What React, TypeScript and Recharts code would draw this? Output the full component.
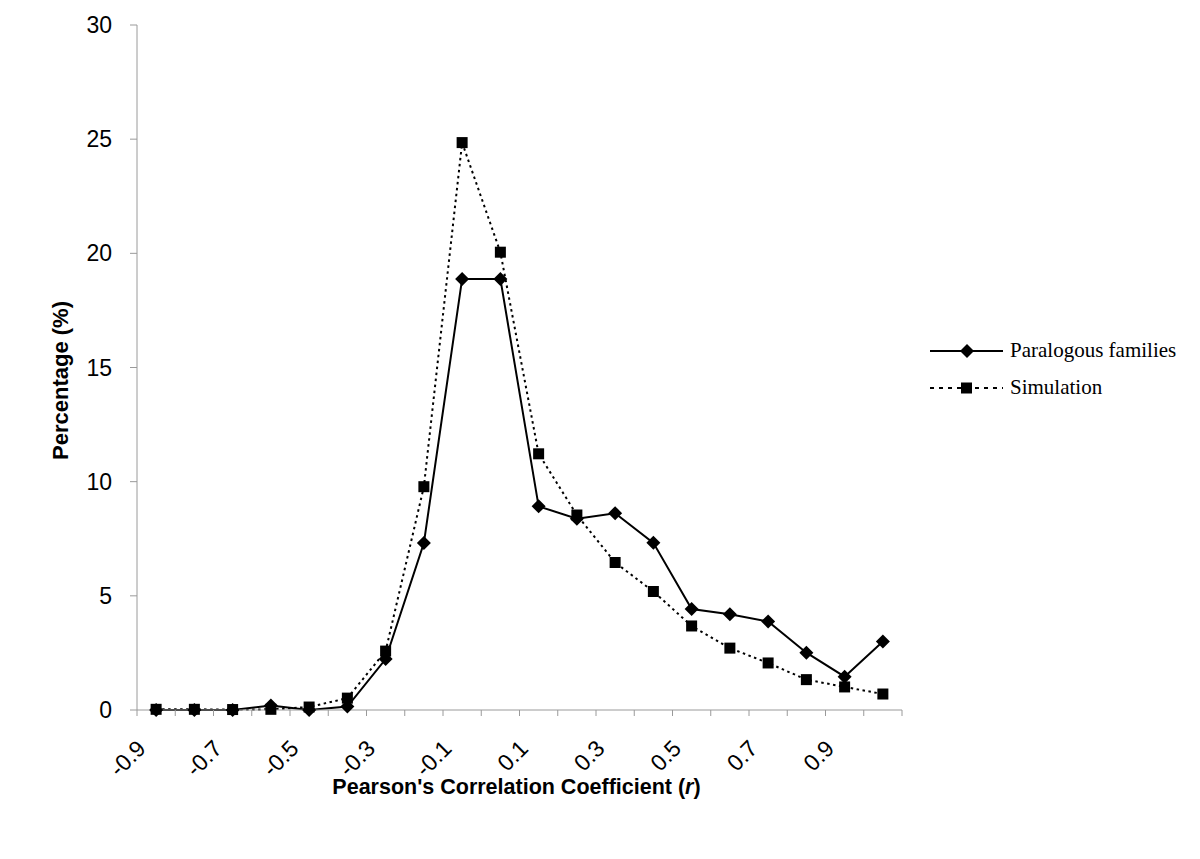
import React from 'react';
import { LineChart, Line, XAxis, YAxis, Legend, Label } from 'recharts';

// correlation bins (r) and percentage per bin
const coefficients = [-0.9, -0.8, -0.7, -0.6, -0.5, -0.4, -0.3, -0.2, -0.1, 0.0, 0.1, 0.2, 0.3, 0.4, 0.5, 0.6, 0.7, 0.8, 0.9, 1.0];
const paralogous = [0, 0, 0, 0.2, 0, 0.15, 2.23, 7.31, 18.88, 18.88, 8.92, 8.38, 8.62, 7.32, 4.42, 4.19, 3.88, 2.51, 1.46, 3.0];
const simulation = [0.03, 0.03, 0.02, 0.03, 0.13, 0.52, 2.58, 9.78, 24.85, 20.05, 11.22, 8.54, 6.46, 5.19, 3.68, 2.71, 2.06, 1.33, 1.01, 0.7];
const yTicks = [0, 5, 10, 15, 20, 25, 30];

const data = coefficients.map((r, i) => ({
  r,
  paralogous: paralogous[i],
  simulation: simulation[i],
}));

const W = 1192;
const H = 851;
const MARGIN = { top: 17, right: 298, left: 69, bottom: 49 };
const Y_AXIS_W = 60;
const X_AXIS_H = 100;
const PLOT_W = W - MARGIN.left - MARGIN.right - Y_AXIS_W;
const HALF_STEP = PLOT_W / coefficients.length / 2;

const GREY = '#9a9a9a';
const SANS = '"Liberation Sans", Arial, sans-serif';
const SERIF = '"Liberation Serif", "Times New Roman", serif';

const XTick = (props: any) => {
  const { x, y, payload, index, visibleTicksCount } = props;
  const last = index === visibleTicksCount - 1;
  const tx = x - 9;
  const ty = y + 40;
  return (
    <g>
      <line x1={x - HALF_STEP} x2={x - HALF_STEP} y1={y} y2={y + 6} stroke={GREY} />
      {last && <line x1={x + HALF_STEP} x2={x + HALF_STEP} y1={y} y2={y + 6} stroke={GREY} />}
      {index % 2 === 0 && (
        <text
          x={tx}
          y={ty}
          transform={`rotate(-45, ${tx}, ${ty})`}
          textAnchor="end"
          fontFamily={SANS}
          fontSize={23}
          fill="#000"
        >
          {Number(payload.value).toFixed(1)}
        </text>
      )}
    </g>
  );
};

const Diamond = (p: any) => {
  const { cx, cy } = p;
  if (cx == null || cy == null) return null;
  const r = 7;
  return <path key={`d-${p.index}`} d={`M${cx},${cy - r}L${cx + r},${cy}L${cx},${cy + r}L${cx - r},${cy}Z`} fill="#000" />;
};

const Square = (p: any) => {
  const { cx, cy } = p;
  if (cx == null || cy == null) return null;
  const s = 11;
  return <rect key={`s-${p.index}`} x={cx - s / 2} y={cy - s / 2} width={s} height={s} fill="#000" />;
};

const LegendContent = () => (
  <div style={{ fontFamily: SERIF, fontSize: 21, color: '#000' }}>
    <div style={{ display: 'flex', alignItems: 'center', height: 37 }}>
      <svg width={80} height={20}>
        <line x1={0} x2={73} y1={10} y2={10} stroke="#000" strokeWidth={2} />
        <path d="M37,3L44,10L37,17L30,10Z" fill="#000" />
      </svg>
      <span>Paralogous families</span>
    </div>
    <div style={{ display: 'flex', alignItems: 'center', height: 37 }}>
      <svg width={80} height={20}>
        <line x1={0} x2={73} y1={10} y2={10} stroke="#000" strokeWidth={2} strokeDasharray="4 5" />
        <rect x={31} y={4.5} width={11} height={11} fill="#000" />
      </svg>
      <span>Simulation</span>
    </div>
  </div>
);

export default function App() {
  return (
    <LineChart width={W} height={H} data={data} margin={MARGIN}>
      <XAxis
        dataKey="r"
        type="category"
        height={X_AXIS_H}
        interval={0}
        padding={{ left: HALF_STEP, right: HALF_STEP }}
        stroke={GREY}
        tickLine={false}
        tickSize={0}
        tickMargin={0}
        tick={<XTick />}
      >
        <Label
          content={(lp: any) => {
            const vb = lp.viewBox;
            return (
              <text
                x={vb.x + vb.width / 2 - 3}
                y={vb.y + 84}
                textAnchor="middle"
                fontFamily={SANS}
                fontWeight="bold"
                fontSize={21.5}
                fill="#000"
              >
                Pearson's Correlation Coefficient (<tspan fontStyle="italic">r</tspan>)
              </text>
            );
          }}
        />
      </XAxis>
      <YAxis
        width={Y_AXIS_W}
        domain={[0, 30]}
        ticks={yTicks}
        interval={0}
        stroke={GREY}
        tickSize={7}
        tickMargin={18}
        tick={{ fontFamily: SANS, fontSize: 23, fill: '#000' }}
      >
        <Label
          content={(lp: any) => {
            const vb = lp.viewBox;
            const lx = vb.x - 9;
            const ly = vb.y + vb.height / 2 + 13;
            return (
              <text
                x={lx}
                y={ly}
                transform={`rotate(-90, ${lx}, ${ly})`}
                textAnchor="middle"
                fontFamily={SANS}
                fontWeight="bold"
                fontSize={22}
                fill="#000"
              >
                Percentage (%)
              </text>
            );
          }}
        />
      </YAxis>
      <Legend
        layout="horizontal"
        align="center"
        verticalAlign="middle"
        wrapperStyle={{ left: 922, top: 324, width: 270 }}
        content={<LegendContent />}
      />
      <Line
        dataKey="paralogous"
        name="Paralogous families"
        type="linear"
        stroke="#000"
        strokeWidth={2}
        dot={Diamond}
        activeDot={false}
        isAnimationActive={false}
      />
      <Line
        dataKey="simulation"
        name="Simulation"
        type="linear"
        stroke="#000"
        strokeWidth={2}
        strokeDasharray="2.5 3.5"
        dot={Square}
        activeDot={false}
        isAnimationActive={false}
      />
    </LineChart>
  );
}
